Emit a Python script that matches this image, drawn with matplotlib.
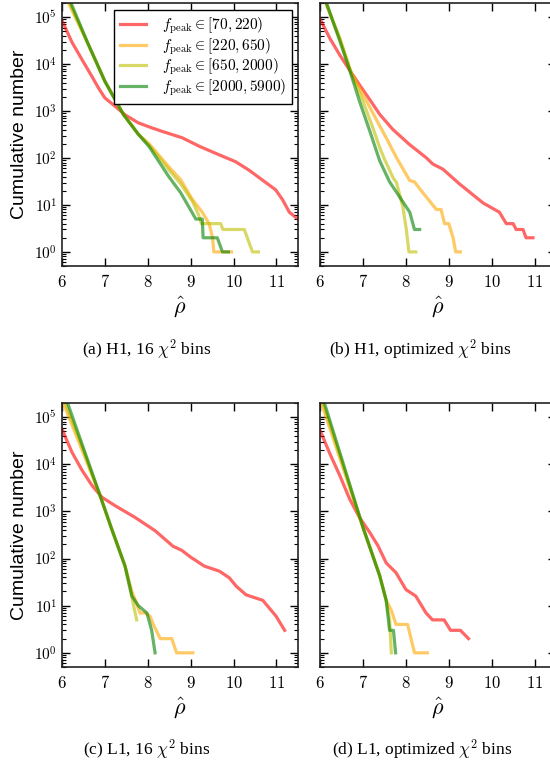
import numpy as np
import matplotlib
matplotlib.use('Agg')
import matplotlib.pyplot as plt
from matplotlib.ticker import LogLocator, FuncFormatter, FixedLocator, NullFormatter

plt.rcParams['mathtext.fontset'] = 'cm'

labels = [r'$f_{\rm peak} \in [70, 220)$', r'$f_{\rm peak} \in [220, 650)$',
          r'$f_{\rm peak} \in [650, 2000)$', r'$f_{\rm peak} \in [2000, 5900)$']
colors = ['r', 'orange', 'y', 'g']

# (a) H1, 16 chi^2 bins
a_red_x = [6.0, 6.23, 6.47, 6.7, 6.85, 7.0, 7.24, 7.47, 7.78, 8.09, 8.33, 8.8, 9.2, 9.58, 10.05, 10.36, 10.67, 10.98, 11.14, 11.3, 11.5]
a_red_n = [85000, 29500, 12300, 5400, 3100, 1900, 1260, 830, 560, 440, 370, 270, 178, 126, 83, 55, 34, 21, 13, 7, 5]
a_org_x = [6.14, 6.6, 7.0, 7.43, 7.78, 8.03, 8.49, 8.77, 9.04, 9.27, 9.43, 9.51, 9.54, 9.95]
a_org_n = [210000, 28000, 4300, 850, 320, 200, 65, 34, 13, 7, 4, 2, 1, 1]
a_yel_x = [6.17, 6.6, 7.0, 7.43, 7.78, 8.03, 8.49, 8.77, 9.04, 9.19, 9.25, 9.7, 9.75, 10.25, 10.44, 10.58]
a_yel_n = [210000, 28000, 4300, 850, 320, 190, 56, 28, 12, 6, 4, 4, 3, 3, 1, 1]
a_grn_x = [6.2, 6.6, 7.0, 7.43, 7.78, 8.03, 8.49, 8.77, 8.96, 9.12, 9.27, 9.29, 9.62, 9.74, 9.88]
a_grn_n = [210000, 28000, 4300, 850, 320, 175, 40, 18, 9, 5, 5, 2, 2, 1, 1]

# (b) H1, optimized chi^2 bins
b_red_x = [6.0, 6.23, 6.46, 6.69, 6.92, 7.16, 7.39, 7.69, 8.08, 8.47, 8.63, 8.86, 9.25, 9.8, 10.18, 10.34, 10.5, 10.57, 10.73, 10.8, 10.96]
b_red_n = [91000, 35000, 15500, 7400, 3600, 1740, 850, 410, 195, 102, 74, 58, 28, 11, 7, 4, 4, 3, 3, 2, 2]
b_org_x = [6.12, 6.46, 6.73, 7.0, 7.31, 7.54, 7.78, 8.09, 8.2, 8.36, 8.71, 8.82, 8.9, 9.0, 9.1, 9.16, 9.27]
b_org_n = [210000, 35000, 6300, 2240, 660, 270, 102, 33, 31, 20, 8, 8, 4, 4, 2, 1, 1]
b_yel_x = [6.13, 6.46, 6.73, 7.0, 7.23, 7.39, 7.5, 7.7, 7.78, 7.93, 8.01, 8.07, 8.23]
b_yel_n = [210000, 35000, 6300, 1600, 440, 166, 95, 38, 30, 9, 3, 1, 1]
b_grn_x = [6.14, 6.46, 6.69, 6.92, 7.16, 7.39, 7.62, 7.85, 8.09, 8.2, 8.32]
b_grn_n = [210000, 31000, 7400, 1600, 370, 87, 31, 15, 7, 3, 3]

# (c) L1, 16 chi^2 bins
c_red_x = [6.0, 6.23, 6.47, 6.7, 6.93, 7.24, 7.71, 8.17, 8.59, 8.79, 9.0, 9.32, 9.67, 9.9, 10.06, 10.29, 10.68, 10.99, 11.19]
c_red_n = [56000, 18200, 7400, 3550, 2000, 1320, 740, 390, 182, 150, 107, 69, 54, 39, 26, 17, 13, 6, 3]
c_org_x = [6.03, 6.5, 6.89, 7.16, 7.47, 7.63, 7.71, 7.82, 7.94, 8.05, 8.13, 8.29, 8.56, 8.67, 9.05]
c_org_n = [200000, 17000, 2140, 420, 69, 20, 13, 7, 7, 6, 4, 2, 2, 1, 1]
c_yel_x = [6.08, 6.5, 6.89, 7.16, 7.47, 7.63, 7.74]
c_yel_n = [200000, 20000, 2140, 420, 69, 15, 5]
c_grn_x = [6.13, 6.5, 6.89, 7.16, 7.47, 7.63, 7.78, 7.98, 8.09, 8.17]
c_grn_n = [200000, 22000, 2140, 420, 69, 16, 10, 7, 3, 1]

# (d) L1, optimized chi^2 bins
d_red_x = [6.0, 6.23, 6.46, 6.69, 6.92, 7.16, 7.35, 7.54, 7.77, 8.0, 8.23, 8.47, 8.62, 8.89, 9.04, 9.27, 9.46]
d_red_n = [52500, 16600, 5750, 1820, 740, 355, 186, 81, 50, 22, 16, 7, 5, 5, 3, 3, 2]
d_org_x = [6.03, 6.5, 7.0, 7.39, 7.54, 7.66, 7.77, 8.04, 8.2, 8.5]
d_org_n = [200000, 10500, 457, 43, 13, 8, 4, 4, 1, 1]
d_yel_x = [6.07, 6.5, 7.0, 7.39, 7.54, 7.62, 7.66]
d_yel_n = [200000, 12000, 457, 43, 13, 5, 1]
d_grn_x = [6.1, 6.5, 7.0, 7.39, 7.54, 7.62, 7.71, 7.76]
d_grn_n = [200000, 13500, 457, 43, 13, 3, 3, 1]

panels = [
    ([a_red_x, a_org_x, a_yel_x, a_grn_x], [a_red_n, a_org_n, a_yel_n, a_grn_n]),
    ([b_red_x, b_org_x, b_yel_x, b_grn_x], [b_red_n, b_org_n, b_yel_n, b_grn_n]),
    ([c_red_x, c_org_x, c_yel_x, c_grn_x], [c_red_n, c_org_n, c_yel_n, c_grn_n]),
    ([d_red_x, d_org_x, d_yel_x, d_grn_x], [d_red_n, d_org_n, d_yel_n, d_grn_n]),
]
captions = [r'(a) H1, 16 $\chi^2$ bins', r'(b) H1, optimized $\chi^2$ bins',
            r'(c) L1, 16 $\chi^2$ bins', r'(d) L1, optimized $\chi^2$ bins']
caption_pos = [(0.267, 0.545), (0.764, 0.545), (0.266, 0.023), (0.767, 0.023)]

fig = plt.figure(figsize=(5.5, 7.68), dpi=100)
rects = [[0.1127, 0.6536, 0.429, 0.3425], [0.582, 0.6536, 0.429, 0.3425],
         [0.1127, 0.1315, 0.429, 0.3438], [0.582, 0.1315, 0.429, 0.3438]]

for i, (rect, (xs, ns)) in enumerate(zip(rects, panels)):
    ax = fig.add_axes(rect)
    for x, n, c, lab in zip(xs, ns, colors, labels):
        ax.plot(x, n, color=c, alpha=0.6, lw=2.3, label=lab)
    ax.set_yscale('log')
    ax.set_xlim(6, 11.5)
    ax.set_ylim(0.5, 2e5)
    ax.xaxis.set_major_locator(FixedLocator([6, 7, 8, 9, 10, 11]))
    ax.xaxis.set_major_formatter(FuncFormatter(lambda v, p: r'$%d$' % v))
    ax.yaxis.set_major_locator(LogLocator(base=10, numticks=10))
    ax.yaxis.set_minor_locator(LogLocator(base=10, subs=np.arange(2, 10), numticks=20))
    ax.yaxis.set_minor_formatter(NullFormatter())
    ax.yaxis.set_major_formatter(FuncFormatter(lambda v, p: r'$10^{%d}$' % round(np.log10(v))))
    ax.tick_params(which='both', direction='in', top=True, right=True)
    ax.tick_params(which='major', length=6, width=1)
    ax.tick_params(which='minor', length=3, width=0.8)
    ax.tick_params(axis='x', labelsize=12, pad=5)
    ax.tick_params(axis='y', labelsize=11)
    for s in ax.spines.values():
        s.set_linewidth(1.2)
        s.set_color('#222222')
    ax.set_xlabel(r'$\hat{\rho}$', fontsize=16, labelpad=2)
    if i % 2 == 0:
        ax.set_ylabel('Cumulative number', family='Liberation Sans', fontsize=14)
        ax.yaxis.set_label_coords(-0.145, 0.5)
    else:
        ax.tick_params(labelleft=False)
    if i == 0:
        leg = ax.legend(loc='upper right', bbox_to_anchor=(0.975, 0.975), borderaxespad=0,
                        fontsize=11, fancybox=False, edgecolor='black', framealpha=1,
                        handlelength=1.7, handletextpad=1.0, labelspacing=0.0,
                        borderpad=0.4)
        leg.get_frame().set_linewidth(1.0)
    fig.text(caption_pos[i][0], caption_pos[i][1], captions[i], ha='center', va='center',
             family='Liberation Serif', fontsize=12.5)

fig.savefig('out.png', dpi=100)
